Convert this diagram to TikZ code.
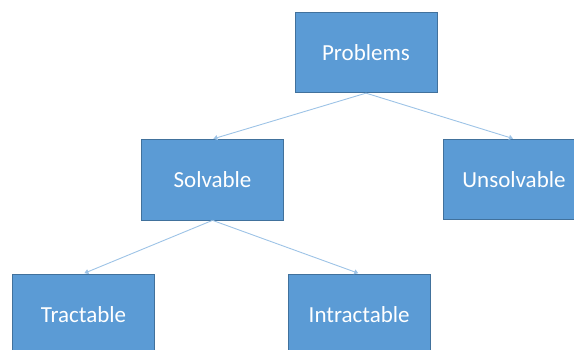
\documentclass[tikz,border=0pt]{standalone}
\usepackage{fontspec}
\setmainfont{Carlito}
\usetikzlibrary{arrows.meta}
\definecolor{boxfill}{HTML}{5B9BD5}
\definecolor{boxline}{HTML}{41719C}
\definecolor{linkcol}{HTML}{9DC3E6}
\begin{document}
\begin{tikzpicture}[x=1pt,y=1pt,
  box/.style={draw=boxline, line width=0.8pt, fill=boxfill, text=white,
    minimum width=142pt, minimum height=80.5pt, inner sep=0pt,
    font=\fontsize{23}{27}\selectfont},
  link/.style={draw=linkcol, line width=0.9pt,
    -{Triangle[width=5pt,length=4pt]}, shorten >=1pt}]
\useasboundingbox (0,0) rectangle (574,349);
\clip (0,0) rectangle (574,349);
\node[box] (prob)   at (366,296.5) {Problems};
\node[box] (solv)   at (212.5,169.3) {Solvable};
\node[box] (unsolv) at (514,169.5) {Unsolvable};
\node[box] (tract)  at (83.5,34.8) {Tractable};
\node[box] (intr)   at (359.2,34.8) {Intractable};
\draw[link] (prob.south) -- (solv.north);
\draw[link] (prob.south) -- (unsolv.north);
\draw[link] (solv.south) -- (tract.north);
\draw[link] (solv.south) -- (intr.north);
\end{tikzpicture}
\end{document}
